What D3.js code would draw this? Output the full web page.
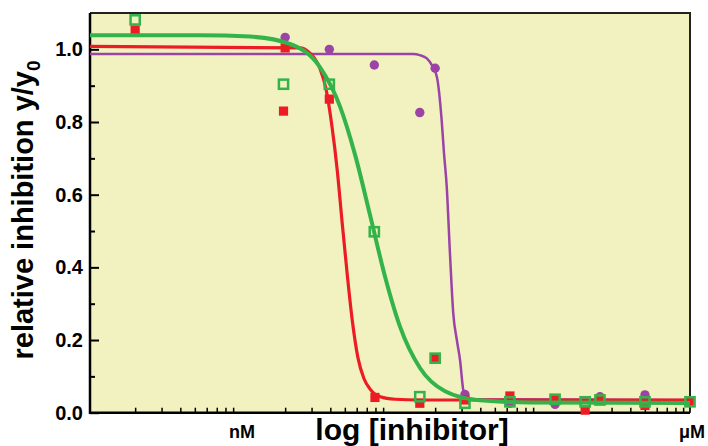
<!DOCTYPE html>
<html>
<head>
<meta charset="utf-8">
<script src="https://cdn.jsdelivr.net/npm/d3@7"></script>
<style>
  body { margin: 0; background: #fff; }
  svg { display: block; }
  text { font-family: "Liberation Sans", Arial, sans-serif; font-weight: bold; fill: #000; }
</style>
</head>
<body>
<div id="chart"></div>
<script>
// Measured points (concentration in nM, relative inhibition)
const redConc = [0.2, 2.0, 1.95, 3.94, 7.94, 15.8, 20, 31.6, 63, 126, 200, 251, 501, 1000];
const redVals = [1.053, 1.004, 0.830, 0.863, 0.042, 0.026, 0.150, 0.035, 0.046, 0.036, 0.007, 0.038, 0.020, 0.032];

const greenConc = [0.2, 1.95, 3.94, 7.86, 15.8, 20, 31.6, 63, 126, 200, 251, 501, 1000];
const greenVals = [1.081, 0.904, 0.904, 0.498, 0.044, 0.150, 0.026, 0.030, 0.037, 0.030, 0.035, 0.030, 0.030];

const purpleConc = [2.0, 3.94, 7.86, 15.8, 20, 31.6, 63, 126, 251, 501];
const purpleVals = [1.033, 1.000, 0.957, 0.826, 0.948, 0.050, 0.026, 0.023, 0.044, 0.049];

// Fitted curves
const redFitConc = [0.1, 2.5, 2.9, 3.4, 3.75, 4.1, 4.45, 4.8, 5.2, 5.6, 6.1, 6.7, 7.4, 8.6, 10.8, 16, 1000];
const redFitVals = [1.008, 1.004, 0.991, 0.949, 0.89, 0.789, 0.667, 0.522, 0.376, 0.255, 0.153, 0.094, 0.064, 0.044, 0.037, 0.035, 0.035];

const greenFitConc = [0.1, 0.54, 1.17, 2.15, 3.41, 4.64, 5.84, 7.47, 9.26, 11.66, 15.85, 23.3, 39.8, 85.8, 1000];
const greenFitVals = [1.039, 1.039, 1.035, 1.015, 0.951, 0.843, 0.711, 0.533, 0.375, 0.237, 0.123, 0.059, 0.034, 0.028, 0.027];

const purpleFitConc = [0.1, 14.2, 15.8, 17.6, 19.1, 20.6, 22.1, 22.9, 23.9, 25.1, 26.4, 27.9, 29.3, 30.8, 32.1, 37, 1000];
const purpleFitVals = [0.987, 0.987, 0.984, 0.975, 0.955, 0.922, 0.805, 0.715, 0.621, 0.439, 0.274, 0.2, 0.145, 0.062, 0.043, 0.037, 0.035];

// Axis ticks
const yMajor = [0, 0.2, 0.4, 0.6, 0.8, 1.0];
const yMinor = [0.1, 0.3, 0.5, 0.7, 0.9];
const xTicks = [0.1, 1, 10, 100].flatMap(d => [2, 3, 4, 5, 6, 7, 8, 9].map(k => +(d * k).toPrecision(2)));
const xUnitLabels = [{ v: 1, t: 'nM' }, { v: 1000, t: 'μM' }];

const width = 708, height = 446;
const plotLeft = 90, plotRight = 690, plotTop = 13, plotBottom = 412.7;

const svg = d3.select('#chart')
    .append('svg')
    .attr('width', width)
    .attr('height', height);

const x = d3.scaleLog().domain([0.1, 1000]).range([plotLeft, plotRight]);
const y = d3.scaleLinear().domain([0, 1.1]).range([plotBottom, plotTop]);

// Plot background
svg.append('rect')
    .attr('x', plotLeft).attr('y', plotTop)
    .attr('width', plotRight - plotLeft).attr('height', plotBottom - plotTop)
    .style('fill', '#f1f2c0');

// Frame (top and right)
svg.append('path')
    .attr('d', `M${plotLeft},${plotTop}H${plotRight}V${plotBottom}`)
    .style('fill', 'none')
    .style('stroke', '#222')
    .style('stroke-width', 2);

// Y axis
const yAxis = svg.append('g').attr('transform', `translate(${plotLeft},0)`);
yAxis.call(d3.axisRight(y).tickValues(yMajor).tickSize(9).tickFormat(''));
yAxis.append('g').call(d3.axisRight(y).tickValues(yMinor).tickSize(5).tickFormat(''));
yAxis.selectAll('.domain').remove();
yAxis.selectAll('line').style('stroke', '#000').style('stroke-width', 2);

svg.selectAll('.ylab')
    .data(yMajor)
    .enter()
    .append('text')
    .attr('class', 'ylab')
    .attr('x', 83)
    .attr('y', d => y(d) + 7)
    .attr('text-anchor', 'end')
    .style('font-size', '20px')
    .text(d => d.toFixed(1));

// X axis
const xAxis = svg.append('g').attr('transform', `translate(0,${plotBottom})`);
xAxis.call(d3.axisTop(x).tickValues(xTicks).tickSize(5).tickFormat(''));
xAxis.selectAll('.domain').remove();
xAxis.selectAll('line').style('stroke', '#000').style('stroke-width', 1.5);

svg.selectAll('.xunit')
    .data(xUnitLabels)
    .enter()
    .append('text')
    .attr('class', 'xunit')
    .attr('x', d => x(d.v) + 2)
    .attr('y', 438)
    .attr('text-anchor', 'middle')
    .style('font-size', '18px')
    .text(d => d.t);

// Axis lines
svg.append('path')
    .attr('d', `M${plotLeft},${plotTop}V${plotBottom}H${plotRight}`)
    .style('fill', 'none')
    .style('stroke', '#000')
    .style('stroke-width', 2.5);

// Axis titles
svg.append('text')
    .attr('x', 412)
    .attr('y', 440)
    .attr('text-anchor', 'middle')
    .style('font-size', '30px')
    .text('log [inhibitor]');

const yTitle = svg.append('text')
    .attr('transform', 'translate(33,210) rotate(-90)')
    .attr('text-anchor', 'middle')
    .style('font-size', '29px');
yTitle.append('tspan').text('relative inhibition y/y');
yTitle.append('tspan').attr('dy', 7).style('font-size', '19px').text('0');

const line = d3.line()
    .x(d => x(d[0]))
    .y(d => y(d[1]))
    .curve(d3.curveMonotoneX);

const zip = (a, b) => a.map((d, i) => [d, b[i]]);

// Purple series
const purple = '#9b43a6';
svg.selectAll('.pp')
    .data(zip(purpleConc, purpleVals))
    .enter()
    .append('circle')
    .attr('cx', d => x(d[0]))
    .attr('cy', d => y(d[1]))
    .attr('r', 4.7)
    .style('fill', purple);

svg.append('path')
    .datum(zip(purpleFitConc, purpleFitVals))
    .attr('d', line)
    .style('fill', 'none')
    .style('stroke', purple)
    .style('stroke-width', 2.5);

// Red series
const red = '#ed1c24';
svg.append('path')
    .datum(zip(redFitConc, redFitVals))
    .attr('d', line)
    .style('fill', 'none')
    .style('stroke', red)
    .style('stroke-width', 3.2);

svg.selectAll('.rp')
    .data(zip(redConc, redVals))
    .enter()
    .append('rect')
    .attr('x', d => x(d[0]) - 4.6)
    .attr('y', d => y(d[1]) - 4.6)
    .attr('width', 9.2)
    .attr('height', 9.2)
    .style('fill', red);

// Green series
const green = '#33b34a';
svg.append('path')
    .datum(zip(greenFitConc, greenFitVals))
    .attr('d', line)
    .style('fill', 'none')
    .style('stroke', green)
    .style('stroke-width', 4);

svg.selectAll('.gp')
    .data(zip(greenConc, greenVals))
    .enter()
    .append('rect')
    .attr('x', d => x(d[0]) - 4.6)
    .attr('y', d => y(d[1]) - 4.6)
    .attr('width', 9.2)
    .attr('height', 9.2)
    .style('fill', 'none')
    .style('stroke', green)
    .style('stroke-width', 2.5);
</script>
</body>
</html>
